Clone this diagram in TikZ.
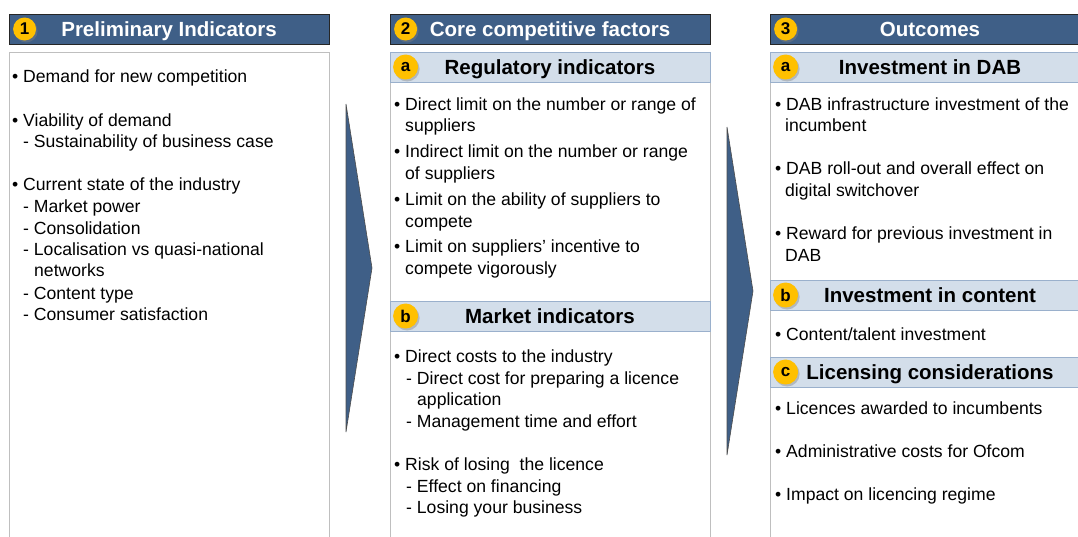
\documentclass[tikz,border=0pt]{standalone}
\usepackage{fontspec}
\setmainfont{Liberation Sans}
\usetikzlibrary{shadows}

\definecolor{hdblue}{HTML}{3F5F87}
\definecolor{subblue}{HTML}{D3DEEA}
\definecolor{subline}{HTML}{9AB0CC}
\definecolor{badgey}{HTML}{FFC000}
\definecolor{boxgrey}{HTML}{BFBFBF}

\tikzset{
  header/.style={fill=hdblue, draw=black!85, line width=0.8pt, minimum width=320pt,
    minimum height=30pt, inner sep=0pt, text height=15pt, text depth=0pt,
    text=white, font=\fontsize{20.5}{24}\selectfont\bfseries},
  subhead/.style={fill=subblue, draw=subline, line width=0.8pt, minimum width=320pt,
    minimum height=30pt, inner sep=0pt, text height=15pt, text depth=0pt,
    font=\fontsize{20.5}{24}\selectfont\bfseries},
  badge/.style={circle, fill=badgey, minimum size=23pt, inner sep=0pt,
    font=\fontsize{17}{20}\selectfont\bfseries,
    drop shadow={shadow xshift=1.5pt, shadow yshift=-2pt, opacity=0.4}},
  subbadge/.style={badge, minimum size=25pt},
  txt/.style={anchor=base west, inner sep=0pt, font=\fontsize{17.6}{21}\selectfont},
  bodybox/.style={draw=boxgrey, line width=0.8pt},
  flow/.style={fill=hdblue, draw=black!70, line width=0.6pt}
}

\begin{document}
\begin{tikzpicture}[x=1pt,y=-1pt]
\useasboundingbox (0,0) rectangle (1078,536);

% body boxes
\draw[bodybox] (9,52) rectangle (329,560);
\draw[bodybox] (390,82) rectangle (710,560);
\draw[bodybox] (770,82) rectangle (1090,560);

% column headers
\node[header] (hd1) at (169,29) {Preliminary Indicators};
\node[header] (hd2) at (550,29) {Core competitive factors};
\node[header] (hd3) at (930,29) {Outcomes};
\node[badge] (n1) at ([xshift=16pt]hd1.west) {1};
\node[badge] (n2) at ([xshift=16pt]hd2.west) {2};
\node[badge] (n3) at ([xshift=16pt]hd3.west) {3};

% sub headers
\node[subhead] (sa2) at (550,67) {Regulatory indicators};
\node[subhead] (sb2) at (550,316) {Market indicators};
\node[subhead] (sa3) at (930,67) {Investment in DAB};
\node[subhead] (sb3) at (930,295) {Investment in content};
\node[subhead] (sc3) at (930,372) {Licensing considerations};
\node[subbadge] (la2) at ([xshift=16pt]sa2.west) {a};
\node[subbadge] (lb2) at ([xshift=16pt]sb2.west) {b};
\node[subbadge] (la3) at ([xshift=16pt]sa3.west) {a};
\node[subbadge] (lb3) at ([xshift=16pt]sb3.west) {b};
\node[subbadge] (lc3) at ([xshift=16pt]sc3.west) {c};

% flow arrows
\draw[flow] (346,104) -- (372,268) -- (346,432) -- cycle;
\draw[flow] (727,127) -- (753,291) -- (727,455) -- cycle;

% column 1
\foreach \y/\x/\t in {82/12/{• Demand for new competition},
    126/12/{• Viability of demand}, 147/23/{- Sustainability of business case},
    190/12/{• Current state of the industry}, 212/23/{- Market power},
    234/23/{- Consolidation}, 255/23/{- Localisation vs quasi-national},
    276/34/{networks}, 299/23/{- Content type}, 320/23/{- Consumer satisfaction}}
  \node[txt] (p-\y) at (\x,\y) {\t};

% column 2
\foreach \y/\x/\t in {110/394/{• Direct limit on the number or range of},
    131/405/{suppliers}, 157/394/{• Indirect limit on the number or range},
    179/405/{of suppliers}, 205/394/{• Limit on the ability of suppliers to},
    227/405/{compete}, 252/394/{• Limit on suppliers’ incentive to},
    274/405/{compete vigorously},
    362/394/{• Direct costs to the industry},
    384/406/{- Direct cost for preparing a licence}, 405/417/{application},
    427/406/{- Management time and effort},
    470/394/{• Risk of losing\ \ the licence},
    492/406/{- Effect on financing}, 513/406/{- Losing your business}}
  \node[txt] (c-\y) at (\x,\y) {\t};

% column 3
\foreach \y/\x/\t in {110/775/{• DAB infrastructure investment of the},
    131/785/{incumbent}, 174/775/{• DAB roll-out and overall effect on},
    196/785/{digital switchover}, 239/775/{• Reward for previous investment in},
    261/785/{DAB}, 340/775/{• Content/talent investment},
    414/775/{• Licences awarded to incumbents},
    457/775/{• Administrative costs for Ofcom},
    500/775/{• Impact on licencing regime}}
  \node[txt] (o-\y) at (\x,\y) {\t};
\end{tikzpicture}
\end{document}
